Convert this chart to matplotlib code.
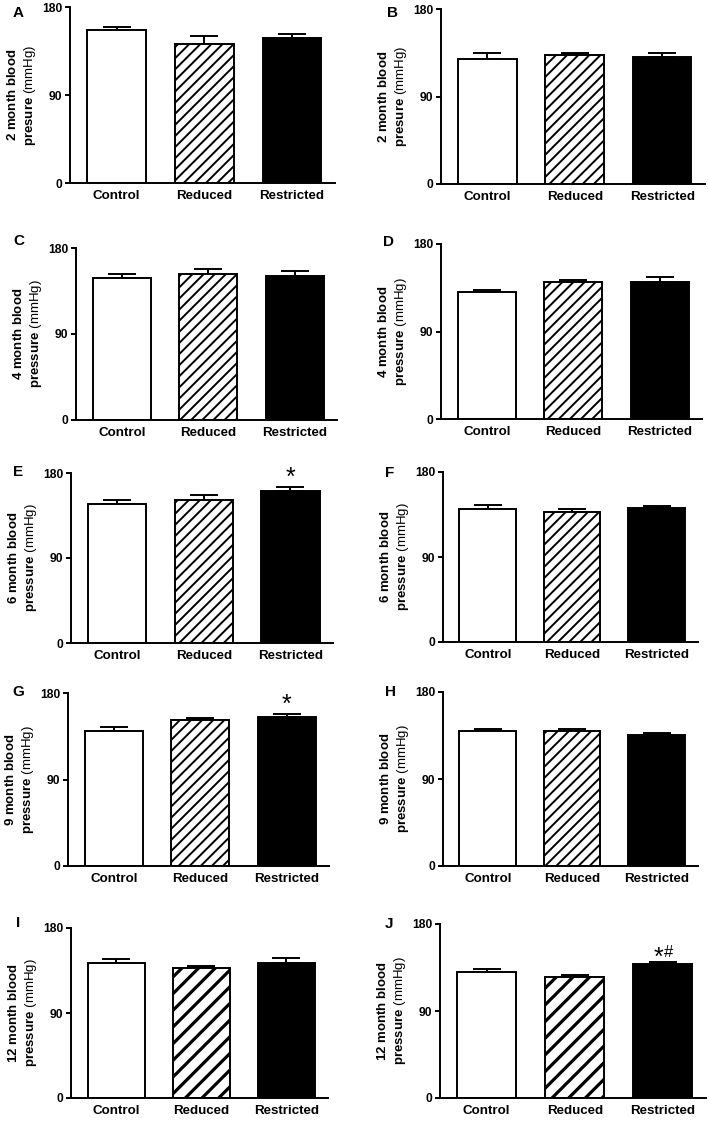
import numpy as np
import matplotlib
matplotlib.use("Agg")
import matplotlib.pyplot as plt

plt.rcParams["font.family"] = ["Liberation Sans", "DejaVu Sans"]
plt.rcParams["mathtext.fontset"] = "custom"
plt.rcParams["mathtext.rm"] = "Liberation Sans"
plt.rcParams["mathtext.bf"] = "Liberation Sans:bold"
plt.rcParams["mathtext.it"] = "Liberation Sans:italic"

# data (mmHg, mean and SEM)
groups = ["Control", "Reduced", "Restricted"]
panel_letters = ["A", "B", "C", "D", "E", "F", "G", "H", "I", "J"]
months = ["2", "2", "4", "4", "6", "6", "9", "9", "12", "12"]
pressure_word = ["presure", "presure", "pressure", "pressure", "pressure",
                 "pressure", "pressure", "pressure", "pressure", "pressure"]

control_mean = [156.0, 128.3, 148.6, 130.9, 147.0, 141.3, 140.2, 139.4, 142.5, 130.4]
control_sem = [4.0, 6.2, 3.9, 1.7, 3.9, 4.0, 4.2, 2.4, 4.7, 2.8]
reduced_mean = [142.6, 132.8, 152.5, 140.5, 151.0, 137.5, 152.0, 139.4, 138.0, 125.6]
reduced_sem = [7.9, 1.7, 5.9, 2.0, 5.5, 3.5, 2.4, 2.1, 2.0, 2.0]
restricted_mean = [148.8, 131.0, 150.7, 140.5, 161.2, 141.7, 154.8, 136.0, 143.3, 138.7]
restricted_sem = [3.5, 3.5, 5.6, 5.8, 3.5, 1.8, 3.1, 1.3, 4.5, 2.4]

sig_marks = ["", "", "", "", "*", "", "*", "", "", "*#"]

# layout in figure pixels: left, right, top, bottom of each axes
W, H = 709, 1123
axes_px = [
    (70, 335, 7, 183), (441, 705, 9, 184),
    (76, 337, 248, 420), (441, 702, 244, 419),
    (71, 333, 473, 643), (443, 698, 472, 642),
    (68, 329, 693, 866), (443, 698, 692, 866),
    (71, 328, 928, 1098), (440, 706, 924, 1098),
]
letter_px = [(18, 13), (392, 13), (19, 241), (389, 242), (18, 472),
             (390, 473), (18, 692), (391, 692), (18, 923), (389, 924)]
# baseline offsets (points) of the significance marks above the error bar
sig_offset = [0, 0, 0, 0, 2.2, 0, 2.0, 0, 0, 0]

fig = plt.figure(figsize=(W / 100, H / 100), dpi=100)

for i in range(10):
    l, r, t, b = axes_px[i]
    ax = fig.add_axes([l / W, 1 - b / H, (r - l) / W, (b - t) / H])
    means = [control_mean[i], reduced_mean[i], restricted_mean[i]]
    sems = [control_sem[i], reduced_sem[i], restricted_sem[i]]
    x = np.arange(3)

    ax.errorbar(x, means, yerr=[np.zeros(3), sems], fmt="none", ecolor="black",
                elinewidth=1.4, capsize=10, capthick=1.4, zorder=1)
    bars = ax.bar(x, means, width=0.67, color=["white", "white", "black"],
                  edgecolor="black", linewidth=1.4, zorder=2)
    if i >= 8:
        bars[1].set_hatch("//")
        hatch_lw = 2.3
    else:
        bars[1].set_hatch("///")
        hatch_lw = 1.4
    if hasattr(bars[1], "set_hatch_linewidth"):
        bars[1].set_hatch_linewidth(hatch_lw)

    ax.set_xlim(-0.53, 2.49)
    ax.set_ylim(0, 180)
    ax.set_yticks([0, 90, 180], labels=["0", "90", "180"], fontweight="bold", fontsize=8.7)
    ax.set_xticks(x, labels=groups, fontweight="bold", fontsize=9.6)
    ax.tick_params(axis="x", length=0, pad=5)
    ax.tick_params(axis="y", length=3.5, width=1.4, pad=2)
    for side in ["top", "right"]:
        ax.spines[side].set_visible(False)
    for side in ["left", "bottom"]:
        ax.spines[side].set_linewidth(1.4)

    ax.set_ylabel("$\\mathbf{" + months[i] + "\\ month\\ blood}$\n$\\mathbf{"
                  + pressure_word[i] + "}$ (mmHg)", fontsize=9.5, labelpad=3,
                  linespacing=1.25)

    top = restricted_mean[i] + restricted_sem[i]
    if sig_marks[i] == "*":
        ax.annotate("*", xy=(2, top), xytext=(0, sig_offset[i]),
                    textcoords="offset points", ha="center", va="baseline",
                    fontsize=18)
    elif sig_marks[i]:
        ax.annotate(sig_marks[i][0], xy=(2, top), xytext=(-3.4, -2.0),
                    textcoords="offset points", ha="center", va="baseline",
                    fontsize=18)
        ax.annotate(sig_marks[i][1], xy=(2, top), xytext=(3.8, 3.6),
                    textcoords="offset points", ha="center", va="baseline",
                    fontsize=12)

    lx, ly = letter_px[i]
    fig.text(lx / W, 1 - ly / H, panel_letters[i], fontsize=11, fontweight="bold",
             ha="center", va="center")

fig.savefig("out.png", dpi=100)
